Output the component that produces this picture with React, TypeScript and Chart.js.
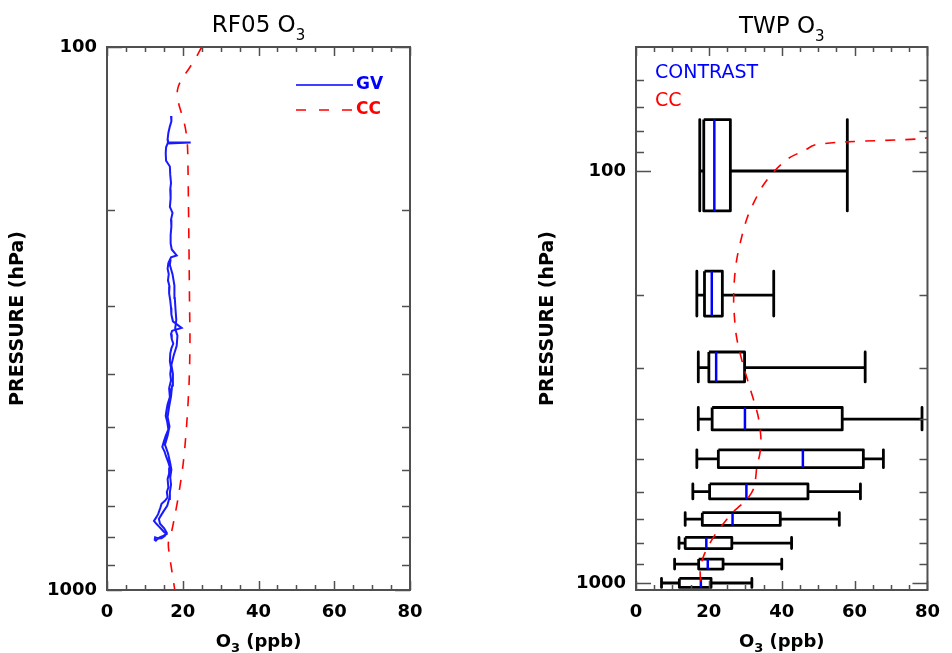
import React, { useEffect, useRef } from 'react';
import { Chart, registerables } from 'chart.js';

Chart.register(...registerables);

// ---------------- Left panel: RF05 O3 ----------------
const GV_PRESSURE = [
  134, 137, 140, 144, 148, 150, 150, 150.5, 153, 157, 162, 166, 172, 178, 183, 190, 197, 202, 208, 214,
  222, 230, 236, 242, 244, 250, 256, 262, 269, 276, 284, 293, 302, 311, 320, 329, 333, 338, 345, 352,
  359, 367, 379, 390, 400, 411, 425, 441, 455, 467, 478, 490, 506, 520, 533, 545, 556, 570, 582, 595,
  610, 625, 647, 660, 675, 685, 694, 705, 715, 725, 735, 746, 756, 765, 773, 781, 789, 795, 800, 806,
  811, 808, 800, 804, 803, 795, 785, 770, 755, 740, 728, 715, 700, 680, 660, 640, 620, 600, 580, 560,
  540, 520, 500, 480, 460, 440, 420, 400, 385, 370, 355, 340, 330, 318, 305, 290, 275, 262, 252, 246,
];
const GV_O3 = [
  16.9, 17.0, 16.6, 16.2, 16.0, 16.1, 22.1, 16.0, 15.6, 15.5, 15.6, 16.6, 16.7, 16.9, 16.7, 16.8, 16.6, 17.3, 16.9, 17.0,
  16.8, 16.8, 17.1, 18.4, 16.9, 16.2, 16.0, 16.3, 16.1, 16.5, 16.4, 16.7, 16.9, 17.0, 17.4, 19.7, 17.2, 16.9, 17.1, 17.5,
  17.0, 16.7, 16.6, 16.9, 16.7, 16.9, 16.4, 16.6, 16.0, 15.7, 15.5, 15.9, 16.2, 15.5, 15.0, 14.6, 15.2, 15.7, 16.2, 16.6,
  16.4, 16.0, 16.2, 15.8, 16.0, 15.3, 14.4, 14.1, 13.8, 13.5, 13.0, 12.4, 13.1, 13.8, 14.4, 15.0, 15.7, 14.8, 13.9, 13.3,
  12.9, 12.6, 12.7, 13.6, 14.4, 15.3, 15.8, 15.1, 14.0, 13.7, 14.3, 15.0, 15.9, 16.4, 16.6, 16.9, 16.7, 17.0, 16.6, 16.1,
  15.3, 16.0, 16.5, 16.0, 16.4, 16.9, 17.2, 17.4, 17.0, 17.6, 18.4, 18.6, 18.0, 18.3, 18.1, 17.9, 17.8, 17.3, 16.6, 16.8,
];
const RF05_CC_PRESSURE = [100, 104, 110, 115, 120, 126, 132, 140, 150, 170, 192, 254, 300, 347, 411, 500, 586, 675, 730, 778, 820, 871, 940, 1000];
const RF05_CC_O3 = [25.0, 23.7, 21.5, 19.6, 18.6, 18.8, 19.6, 20.6, 21.2, 21.4, 21.5, 21.7, 21.8, 21.9, 21.7, 21.0, 20.1, 18.8, 17.9, 17.1, 16.2, 16.6, 17.3, 17.9];

// ---------------- Right panel: TWP O3 (box plots) ----------------
const TWP_LEVELS = [100, 200, 300, 400, 500, 600, 700, 800, 900, 1000];
const TWP_WMIN = [17.5, 16.7, 17.1, 17.1, 16.7, 15.6, 13.5, 11.8, 10.6, 7.0];
const TWP_Q1 = [18.6, 18.8, 20.0, 20.9, 22.6, 20.2, 18.2, 13.5, 17.2, 11.9];
const TWP_MED = [21.5, 20.8, 22.0, 29.9, 45.8, 30.3, 26.5, 19.3, 19.7, 17.8];
const TWP_Q3 = [25.9, 23.7, 29.8, 56.6, 62.4, 47.2, 39.6, 26.3, 23.9, 20.6];
const TWP_WMAX = [58.0, 37.8, 62.9, 78.5, 67.9, 61.6, 55.8, 42.7, 40.0, 31.8];
const TWP_CC_PRESSURE = [82, 83.5, 85, 86.5, 89, 93, 100, 108, 117.5, 130, 147, 165, 184, 205, 225, 250, 271, 300, 339, 370, 397, 448, 485, 520, 560, 590, 626, 650, 673, 710, 752, 800, 858, 900, 940, 1000, 1040];
const TWP_CC_O3 = [82, 78.4, 57.3, 49.0, 46.4, 42.0, 38.0, 35.0, 32.7, 30.5, 28.8, 27.6, 27.0, 26.8, 27.0, 27.5, 28.3, 29.6, 31.4, 32.7, 33.6, 34.3, 34.0, 33.2, 32.8, 32.3, 30.5, 28.5, 26.6, 24.4, 22.2, 20.3, 18.6, 17.9, 17.6, 17.8, 17.9];
const BOX_HALF_HPA = 25;

// ---------------- Axes ----------------
const X_MIN = 0;
const X_MAX = 80;
const X_LABEL_STEP = 20;
const X_MINOR_STEP = 5;
const LEFT_P_TICKS = [100, 200, 300, 400, 500, 600, 700, 800, 900, 1000];
const RIGHT_P_TICKS = [60, 70, 80, 90, 100, 200, 300, 400, 500, 600, 700, 800, 900, 1000];
const P_LABELS = [100, 1000];

const FAMILY = "'DejaVu Sans', sans-serif";
const TICK_FONT = { family: FAMILY, weight: 'bold' as const, size: 18 };
const BLUE = '#0000ff';
const RED = '#ff0000';

type SubText = { main: string; sub: string; after: string; size: number; subSize: number; weight: string; baseline: number; subDrop: number };

function drawSubText(ctx: CanvasRenderingContext2D, cx: number, t: SubText) {
  const f = (s: number) => `${t.weight} ${s}px ${FAMILY}`;
  ctx.font = f(t.size);
  const w1 = ctx.measureText(t.main).width;
  const w3 = ctx.measureText(t.after).width;
  ctx.font = f(t.subSize);
  const w2 = ctx.measureText(t.sub).width;
  let x = cx - (w1 + w2 + w3) / 2;
  ctx.textAlign = 'left';
  ctx.textBaseline = 'alphabetic';
  ctx.fillStyle = '#000';
  ctx.font = f(t.size);
  ctx.fillText(t.main, x, t.baseline);
  x += w1;
  ctx.font = f(t.subSize);
  ctx.fillText(t.sub, x, t.baseline + t.subDrop);
  x += w2;
  ctx.font = f(t.size);
  ctx.fillText(t.after, x, t.baseline);
}

const framePlugin = {
  id: 'frameTicks',
  afterDatasetsDraw(chart: any, _args: any, opts: any) {
    const { ctx, chartArea } = chart;
    const { left, right, top, bottom } = chartArea;
    const xs = chart.scales.x;
    const ys = chart.scales.y;
    ctx.save();
    ctx.strokeStyle = '#505050';
    ctx.lineWidth = 1.5;
    ctx.beginPath();
    for (let v = X_MIN; v <= X_MAX; v += X_MINOR_STEP) {
      const px = Math.round(xs.getPixelForValue(v)) + 0.5;
      const len = v % X_LABEL_STEP === 0 ? 9 : 5;
      ctx.moveTo(px, bottom);
      ctx.lineTo(px, bottom - len);
      ctx.moveTo(px, top);
      ctx.lineTo(px, top + len);
    }
    for (const p of opts.yTicks as number[]) {
      const py = Math.round(ys.getPixelForValue(p)) + 0.5;
      const len = P_LABELS.includes(p) ? 15 : 8;
      ctx.moveTo(left, py);
      ctx.lineTo(left + len, py);
      ctx.moveTo(right, py);
      ctx.lineTo(right - len, py);
    }
    ctx.stroke();
    ctx.lineWidth = 2;
    ctx.strokeRect(left, top, right - left, bottom - top);
    ctx.restore();
  },
};

const textPlugin = {
  id: 'texts',
  afterDraw(chart: any, _args: any, opts: any) {
    const { ctx, chartArea } = chart;
    const cx = (chartArea.left + chartArea.right) / 2;
    ctx.save();
    drawSubText(ctx, cx, opts.title);
    drawSubText(ctx, cx, opts.xTitle);
    for (const item of opts.legend as any[]) {
      if (item.line) {
        ctx.strokeStyle = item.color;
        ctx.lineWidth = 1.5;
        ctx.setLineDash(item.dash || []);
        ctx.beginPath();
        ctx.moveTo(item.line[0], item.y);
        ctx.lineTo(item.line[1], item.y);
        ctx.stroke();
        ctx.setLineDash([]);
      }
      ctx.fillStyle = item.color;
      ctx.font = `${item.weight} ${item.size}px ${FAMILY}`;
      ctx.textAlign = 'left';
      ctx.textBaseline = 'middle';
      ctx.fillText(item.text, item.x, item.y);
    }
    ctx.restore();
  },
};

function pts(xs: number[], ps: number[]) {
  return ps.map((p, i) => ({ x: xs[i], y: p }));
}

function boxOutlineData() {
  const d: any[] = [];
  const gap = { x: null, y: null };
  TWP_LEVELS.forEach((p, i) => {
    const a = p - BOX_HALF_HPA;
    const b = p + BOX_HALF_HPA;
    d.push({ x: TWP_Q1[i], y: a }, { x: TWP_Q3[i], y: a }, { x: TWP_Q3[i], y: b }, { x: TWP_Q1[i], y: b }, { x: TWP_Q1[i], y: a }, gap);
    d.push({ x: TWP_WMIN[i], y: p }, { x: TWP_Q1[i], y: p }, gap);
    d.push({ x: TWP_WMIN[i], y: a }, { x: TWP_WMIN[i], y: b }, gap);
    d.push({ x: TWP_Q3[i], y: p }, { x: TWP_WMAX[i], y: p }, gap);
    d.push({ x: TWP_WMAX[i], y: a }, { x: TWP_WMAX[i], y: b }, gap);
  });
  return d;
}

function medianData() {
  const d: any[] = [];
  TWP_LEVELS.forEach((p, i) => {
    d.push({ x: TWP_MED[i], y: p - BOX_HALF_HPA }, { x: TWP_MED[i], y: p + BOX_HALF_HPA }, { x: null, y: null });
  });
  return d;
}

function makeScales(pMin: number, pMax: number, pTicks: number[], yWidth: number) {
  return {
    x: {
      type: 'linear',
      min: X_MIN,
      max: X_MAX,
      ticks: { stepSize: X_LABEL_STEP, padding: 12, font: TICK_FONT, color: '#000' },
      grid: { display: false, drawTicks: false },
      border: { display: false },
      afterFit: (s: any) => {
        s.height = 63;
      },
    },
    y: {
      type: 'logarithmic',
      reverse: true,
      min: pMin,
      max: pMax,
      afterBuildTicks: (s: any) => {
        s.ticks = pTicks.map((v) => ({ value: v }));
      },
      ticks: {
        autoSkip: false,
        padding: 10,
        font: TICK_FONT,
        color: '#000',
        callback: (v: any) => (P_LABELS.includes(Number(v)) ? String(v) : ''),
      },
      grid: { display: false, drawTicks: false },
      border: { display: false },
      title: {
        display: true,
        text: 'PRESSURE (hPa)',
        color: '#000',
        font: { family: FAMILY, weight: 'bold', size: 19 },
        padding: { top: 7, bottom: 0 },
      },
      afterFit: (s: any) => {
        s.width = yWidth;
      },
    },
  };
}

export default function App() {
  const leftRef = useRef<HTMLCanvasElement>(null);
  const rightRef = useRef<HTMLCanvasElement>(null);

  useEffect(() => {
    const left = new Chart(leftRef.current as HTMLCanvasElement, {
      type: 'scatter',
      data: {
        datasets: [
          {
            label: 'CC',
            data: pts(RF05_CC_O3, RF05_CC_PRESSURE),
            showLine: true,
            borderColor: RED,
            borderWidth: 1.6,
            borderDash: [10, 11],
            pointRadius: 0,
            tension: 0.3,
          },
          {
            label: 'GV',
            data: pts(GV_O3, GV_PRESSURE),
            showLine: true,
            borderColor: '#1a1aff',
            borderWidth: 2,
            pointRadius: 0,
            tension: 0,
          },
        ],
      },
      options: {
        animation: false,
        responsive: false,
        layout: { padding: { top: 47, right: 66, left: 0, bottom: 0 } },
        plugins: {
          legend: { display: false },
          tooltip: { enabled: false },
          frameTicks: { yTicks: LEFT_P_TICKS },
          texts: {
            title: { main: 'RF05 O', sub: '3', after: '', size: 23, subSize: 15, weight: 'normal', baseline: 32, subDrop: 8 },
            xTitle: { main: 'O', sub: '3', after: ' (ppb)', size: 18, subSize: 13, weight: 'bold', baseline: 647, subDrop: 5 },
            legend: [
              { text: 'GV', color: BLUE, x: 356, y: 85, size: 17, weight: 'bold', line: [296, 353] },
              { text: 'CC', color: RED, x: 356, y: 110, size: 17, weight: 'bold', line: [296, 353], dash: [10, 13] },
            ],
          },
        } as any,
        scales: makeScales(100, 1000, LEFT_P_TICKS, 107) as any,
      },
      plugins: [framePlugin, textPlugin],
    });

    const right = new Chart(rightRef.current as HTMLCanvasElement, {
      type: 'scatter',
      data: {
        datasets: [
          {
            label: 'CC',
            data: pts(TWP_CC_O3, TWP_CC_PRESSURE),
            showLine: true,
            borderColor: RED,
            borderWidth: 1.6,
            borderDash: [10, 10],
            pointRadius: 0,
            tension: 0.3,
          },
          {
            label: 'CONTRAST median',
            data: medianData(),
            showLine: true,
            spanGaps: false,
            borderColor: BLUE,
            borderWidth: 2.5,
            pointRadius: 0,
          },
          {
            label: 'CONTRAST boxes',
            data: boxOutlineData(),
            showLine: true,
            spanGaps: false,
            borderColor: '#000',
            borderWidth: 2.8,
            borderJoinStyle: 'round',
            pointRadius: 0,
          },
        ],
      },
      options: {
        animation: false,
        responsive: false,
        layout: { padding: { top: 47, right: 13, left: 0, bottom: 0 } },
        plugins: {
          legend: { display: false },
          tooltip: { enabled: false },
          frameTicks: { yTicks: RIGHT_P_TICKS },
          texts: {
            title: { main: 'TWP O', sub: '3', after: '', size: 23, subSize: 15, weight: 'normal', baseline: 33, subDrop: 8 },
            xTitle: { main: 'O', sub: '3', after: ' (ppb)', size: 18, subSize: 13, weight: 'bold', baseline: 647, subDrop: 5 },
            legend: [
              { text: 'CONTRAST', color: BLUE, x: 125, y: 73, size: 19, weight: 'normal' },
              { text: 'CC', color: RED, x: 125, y: 101, size: 19, weight: 'normal' },
            ],
          },
        } as any,
        scales: makeScales(50, 1040, RIGHT_P_TICKS, 106) as any,
      },
      plugins: [framePlugin, textPlugin],
    });

    return () => {
      left.destroy();
      right.destroy();
    };
  }, []);

  return (
    <div style={{ position: 'fixed', left: 0, top: 0, width: 952, height: 653, background: '#fff', overflow: 'hidden' }}>
      <canvas ref={leftRef} width={476} height={653} style={{ position: 'absolute', left: 0, top: 0 }} />
      <canvas ref={rightRef} width={422} height={653} style={{ position: 'absolute', left: 530, top: 0 }} />
    </div>
  );
}
